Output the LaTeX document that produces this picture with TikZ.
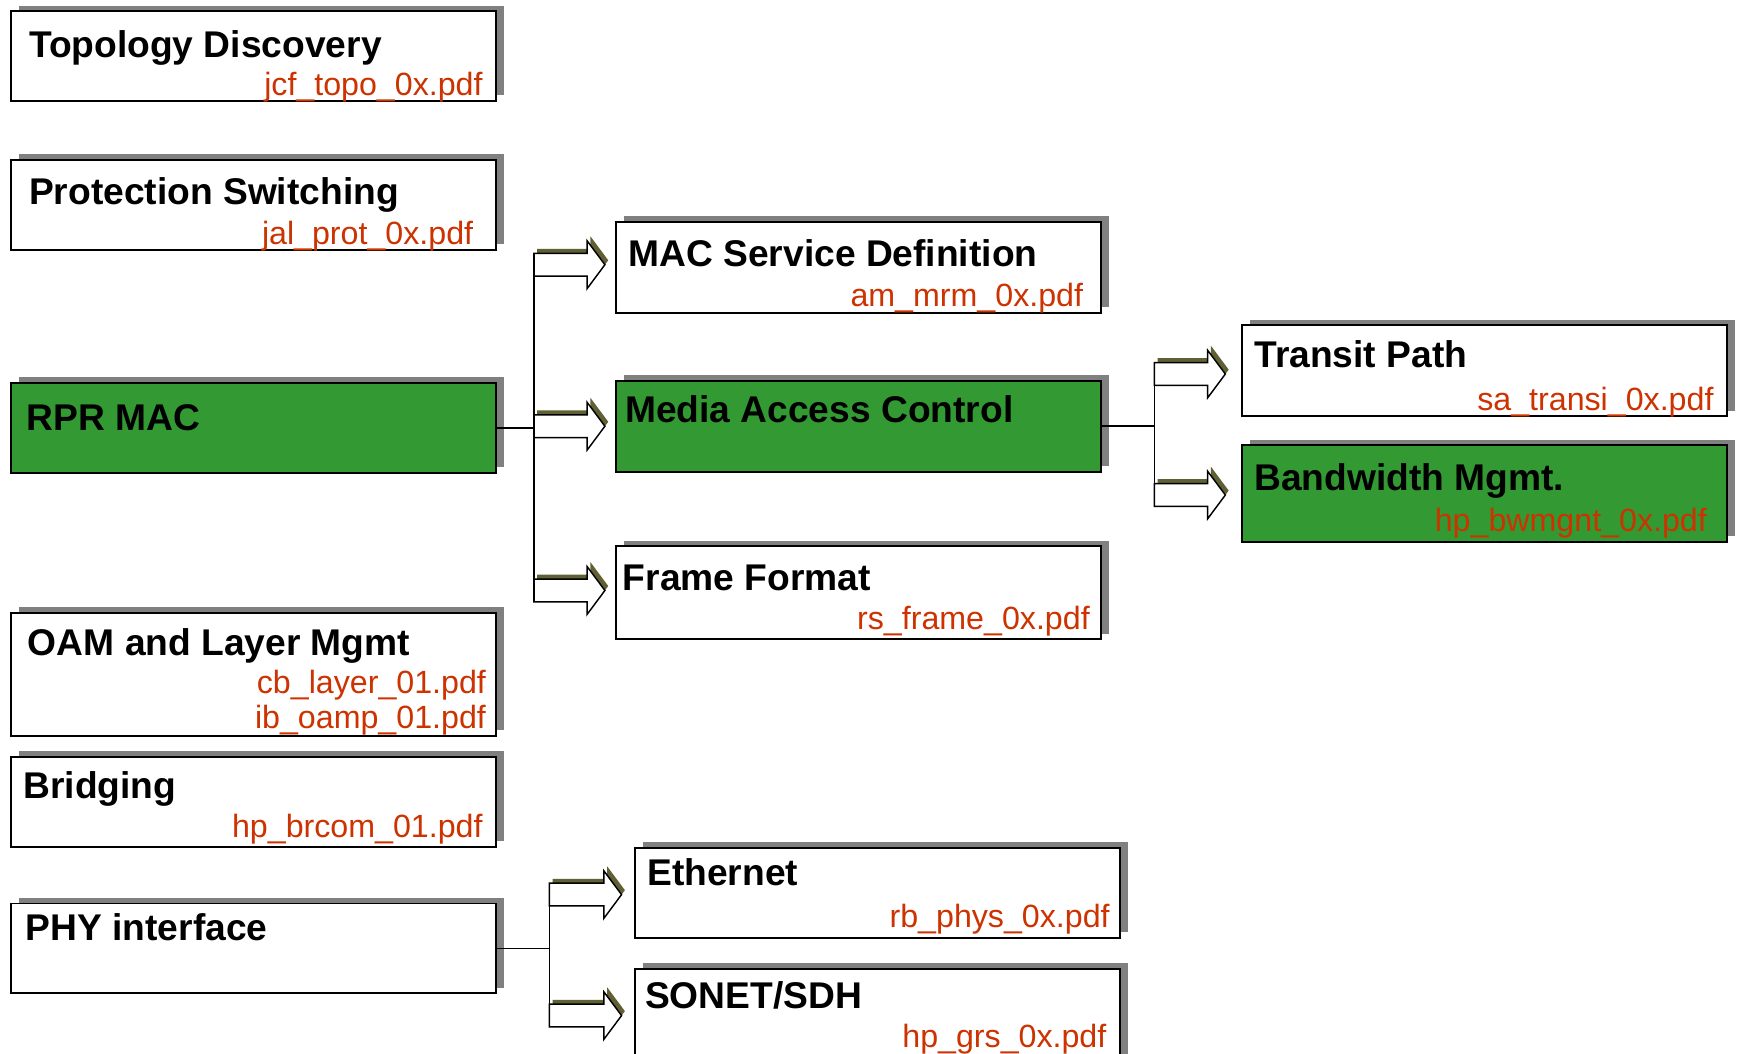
\documentclass[tikz,border=0pt]{standalone}
\usepackage{fontspec}
\setmainfont{Liberation Sans}
\usetikzlibrary{shadows,calc}
\definecolor{boxgreen}{RGB}{51,153,51}
\definecolor{fnred}{RGB}{204,51,0}
\definecolor{shadowgray}{RGB}{128,128,128}
\definecolor{arrolive}{RGB}{96,96,52}
\tikzset{
  box/.style={draw=black, line width=1.6pt, fill=white, inner sep=0pt,
    minimum width=437pt, minimum height=81pt,
    drop shadow={shadow xshift=7pt, shadow yshift=5pt, fill=shadowgray, opacity=1}},
  gbox/.style={box, fill=boxgreen},
  ttl/.style={inner sep=0pt, anchor=base west, font=\bfseries\fontsize{33.5}{38}\selectfont},
  fn/.style={inner sep=0pt, anchor=base east, text=fnred, font=\fontsize{29}{34}\selectfont},
  bus/.style={draw=black, line width=1.4pt},
  arrshadow/.style={fill=arrolive},
  arrbody/.style={fill=white, draw=black, line width=1.3pt, line join=miter}
}
\newcommand{\blockarr}[2]{%
  \fill[arrshadow] let \p1=(#1), \p2=(#2) in
    (\x1+3pt,\y1+14.25pt) -- (\x2-13pt,\y1+14.25pt) -- (\x2-13pt,\y1+25.5pt) -- (\x2+3pt,\y1+4pt) -- (\x2-13pt,\y1-17.5pt) -- (\x2-13pt,\y1-6.25pt) -- (\x1+3pt,\y1-6.25pt) -- cycle;
  \filldraw[arrbody] let \p1=(#1), \p2=(#2) in
    (\x1,\y1+10.25pt) -- (\x2-16pt,\y1+10.25pt) -- (\x2-16pt,\y1+21.5pt) -- (\x2,\y1) -- (\x2-16pt,\y1-21.5pt) -- (\x2-16pt,\y1-10.25pt) -- (\x1,\y1-10.25pt) -- cycle;
}
\begin{document}
\begin{tikzpicture}[x=1pt,y=-1pt]
\useasboundingbox (0,0) rectangle (1565,949);
\fill[white] (0,0) rectangle (1565,949);

% left column
\node[box] (topo) at (228.5,50.5) {};
\node[ttl] (topoT) at (26,51.5) {Topology Discovery};
\node[fn] (topoF) at (435,86) {jcf\_topo\_0x.pdf};

\node[box] (prot) at (228.5,184.5) {};
\node[ttl] (protT) at (26,184.5) {Protection Switching};
\node[fn] (protF) at (426.5,220) {jal\_prot\_0x.pdf};

\node[gbox] (rpr) at (228.5,385.5) {};
\node[ttl] (rprT) at (24,388) {RPR MAC};

\node[box, minimum height=111pt] (oam) at (228.5,607.5) {};
\node[ttl] (oamT) at (25,590.5) {OAM and Layer Mgmt};
\node[fn] (oamF1) at (438,625) {cb\_layer\_01.pdf};
\node[fn] (oamF2) at (438,656) {ib\_oamp\_01.pdf};

\node[box] (bridg) at (228.5,722.5) {};
\node[ttl] (bridgT) at (21,719.5) {Bridging};
\node[fn] (bridgF) at (435,755) {hp\_brcom\_01.pdf};

\node[box] (phy) at (228.5,854.5) {};
\node[ttl] (phyT) at (23,847) {PHY interface};

% middle column
\node[box, minimum height=82pt] (msd) at (773.5,241) {};
\node[ttl] (msdT) at (566,240) {MAC Service Definition};
\node[fn] (msdF) at (976,276) {am\_mrm\_0x.pdf};

\node[gbox, minimum height=82pt] (mac) at (773.5,384) {};
\node[ttl] (macT) at (563,381) {Media Access Control};

\node[box, minimum height=84pt] (ff) at (773.5,534) {};
\node[ttl] (ffT) at (561,532) {Frame Format};
\node[fn] (ffF) at (982,567) {rs\_frame\_0x.pdf};

% right column
\node[box, minimum height=82pt] (tp) at (1337.5,334) {};
\node[ttl] (tpT) at (1130,331) {Transit Path};
\node[fn] (tpF) at (1544,369.5) {sa\_transi\_0x.pdf};

\node[gbox, minimum height=87pt] (bw) at (1337.5,444.5) {};
\node[ttl] (bwT) at (1130,442) {Bandwidth Mgmt.};
\node[fn] (bwF) at (1538,479) {hp\_bwmgnt\_0x.pdf};

% PHY children
\node[box] (eth) at (790.5,804.5) {};
\node[ttl] (ethT) at (583,798) {Ethernet};
\node[fn] (ethF) at (1000,836) {rb\_phys\_0x.pdf};

\node[box, minimum height=82pt] (sonet) at (790.5,914) {};
\node[ttl] (sonetT) at (581,909) {SONET/SDH};
\node[fn] (sonetF) at (997,943.5) {hp\_grs\_0x.pdf};

% group 1: RPR MAC -> MSD, MAC, FF
\coordinate (g1top) at (481,228.25);
\coordinate (g1bot) at (481,542.25);
\coordinate (s11) at (481,238.5);  \coordinate (t11) at (545,238.5);
\coordinate (s12) at (481,384);    \coordinate (t12) at (545,384);
\coordinate (s13) at (481,532);    \coordinate (t13) at (545,532);
\blockarr{s11}{t11}
\blockarr{s12}{t12}
\blockarr{s13}{t13}
\draw[bus] (g1top) -- (g1bot);
\draw[bus] (rpr.east) -- (rpr.east -| g1top);

% group 2: MAC -> TP, BW
\coordinate (g2top) at (1040,326.75);
\coordinate (g2bot) at (1040,456.25);
\coordinate (s21) at (1040,337);   \coordinate (t21) at (1104,337);
\coordinate (s22) at (1040,446);   \coordinate (t22) at (1104,446);
\blockarr{s21}{t21}
\blockarr{s22}{t22}
\draw[bus] (g2top) -- (g2bot);
\draw[bus] (mac.east) -- (mac.east -| g2top);

% group 3: PHY -> Ethernet, SONET
\coordinate (g3top) at (495,795.75);
\coordinate (g3bot) at (495,925.25);
\coordinate (s31) at (495,806);    \coordinate (t31) at (560,806);
\coordinate (s32) at (495,915);    \coordinate (t32) at (560,915);
\blockarr{s31}{t31}
\blockarr{s32}{t32}
\draw[bus] (g3top) -- (g3bot);
\draw[bus] (phy.east) -- (phy.east -| g3top);
\end{tikzpicture}
\end{document}
